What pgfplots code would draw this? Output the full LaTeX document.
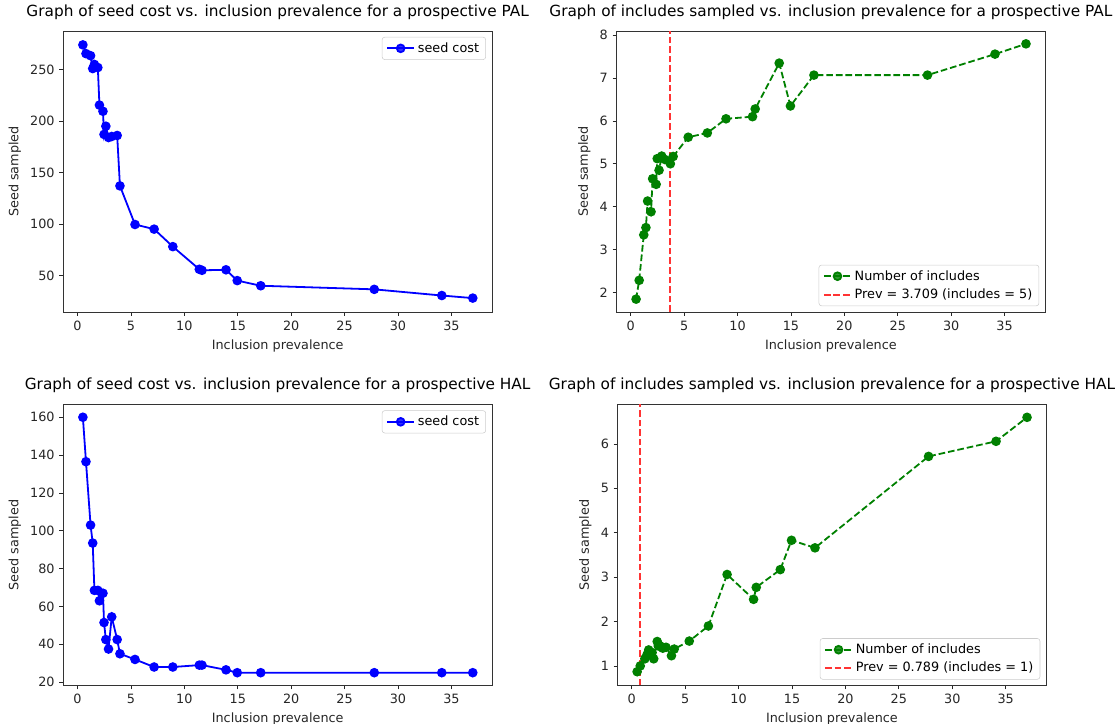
\documentclass[border=0pt]{standalone}
\usepackage{fontspec}
\setmainfont{DejaVu Sans}
\usepackage{pgfplots}
\pgfplotsset{compat=1.18}
\usepackage{pgfplotstable}

% prevalence, seed cost PAL, includes PAL, seed cost HAL, includes HAL
\pgfplotstableread{
x     tl    tr    bl    br
0.50  274   1.84  160   0.87
0.79  265.5 2.28  136.5 1.00
1.22  263.5 3.34  103   1.16
1.42  251   3.51  93.5  1.25
1.58  255   4.13  68.5  1.36
1.90  252   3.88  68.5  1.30
2.05  215.5 4.65  63    1.16
2.38  209.5 4.52  67    1.55
2.48  187   5.12  51.5  1.45
2.65  195   4.85  42.5  1.45
2.90  184   5.18  37.5  1.40
3.20  185   5.10  54.5  1.42
3.71  186   5.00  42.5  1.23
3.97  137   5.17  35    1.38
5.38  99.5  5.62  32    1.56
7.17  95    5.72  28    1.90
8.92  78    6.05  28    3.06
11.40 56    6.10  29    2.50
11.65 55    6.28  29    2.77
13.90 55.5  7.35  26.5  3.17
14.95 45    6.35  25    3.83
17.15 40    7.07  25    3.66
27.78 36.5  7.07  25    5.72
34.10 30.5  7.56  25    6.06
37.00 28    7.80  25    6.60
}\data

\definecolor{mplgreen}{RGB}{0,128,0}
\definecolor{mplred}{RGB}{255,51,51}

\pgfplotsset{
  mpl/.style={
    scale only axis, width=321.5pt, height=210.75pt, anchor=south west,
    xmin=-1.33, xmax=38.8, xtick={0,5,...,35},
    tick align=outside, tick pos=left, major tick length=3pt,
    every tick/.style={black!85, line width=0.6pt},
    axis line style={black!80, line width=0.6pt},
    ticklabel style={font=\fontsize{9.6}{11}\selectfont, text=black!85},
    /pgf/number format/assume math mode=true,
    label style={font=\fontsize{9.6}{11}\selectfont, text=black!85},
    title style={font=\fontsize{11.5}{13}\selectfont, anchor=base, yshift=5pt},
    xlabel={Inclusion prevalence}, ylabel={Seed sampled},
    legend cell align=left,
    legend image code/.code={
      \draw[mark repeat=2, mark phase=2, #1]
        plot coordinates {(0cm,0cm) (0.36cm,0cm) (0.72cm,0cm)};},
    legend style={font=\fontsize{9.6}{11}\selectfont, draw=black!20,
      rounded corners=2pt, fill=white, fill opacity=0.8, text opacity=1,
      inner xsep=3pt, inner ysep=2pt, row sep=1pt},
  },
  costline/.style={blue, line width=1.35pt, mark=*, mark size=2.9pt,
    mark options={solid, fill=blue, draw=blue}},
  incline/.style={mplgreen, line width=1.35pt, dash pattern=on 5pt off 2.2pt,
    mark=*, mark size=2.9pt, mark options={solid, fill=mplgreen, draw=mplgreen}},
  prevline/.style={mplred, line width=1.35pt, dash pattern=on 5pt off 2.2pt},
}

\begin{document}
\begin{tikzpicture}
\path[use as bounding box] (0,0) rectangle (838.5pt,543pt);

\begin{axis}[mpl, at={(47.5pt,309pt)},
  ymin=14.5, ymax=287.5, ytick={50,100,...,250},
  title={Graph of seed cost vs. inclusion prevalence for a prospective PAL},
  legend style={at={(0.986,0.979)}, anchor=north east}]
\addplot[costline] table[x=x, y=tl] {\data};
\legend{seed cost}
\end{axis}

\begin{axis}[mpl, at={(462.4pt,309pt)},
  ymin=1.54, ymax=8.1, ytick={2,3,...,8},
  title={Graph of includes sampled vs. inclusion prevalence for a prospective PAL},
  legend style={at={(0.986,0.021)}, anchor=south east}]
\addplot[incline] table[x=x, y=tr] {\data};
\addplot[prevline] coordinates {(3.709,1.54) (3.709,8.1)};
\legend{Number of includes, Prev = 3.709 (includes = 5)}
\end{axis}

\begin{axis}[mpl, at={(47.5pt,28.9pt)},
  ymin=18.25, ymax=166.75, ytick={20,40,...,160},
  title={Graph of seed cost vs. inclusion prevalence for a prospective HAL},
  legend style={at={(0.986,0.979)}, anchor=north east}]
\addplot[costline] table[x=x, y=bl] {\data};
\legend{seed cost}
\end{axis}

\begin{axis}[mpl, at={(463.2pt,28.9pt)},
  ymin=0.56, ymax=6.89, ytick={1,2,...,6},
  title={Graph of includes sampled vs. inclusion prevalence for a prospective HAL},
  legend style={at={(0.986,0.021)}, anchor=south east}]
\addplot[incline] table[x=x, y=br] {\data};
\addplot[prevline] coordinates {(0.789,0.56) (0.789,6.89)};
\legend{Number of includes, Prev = 0.789 (includes = 1)}
\end{axis}
\end{tikzpicture}
\end{document}
